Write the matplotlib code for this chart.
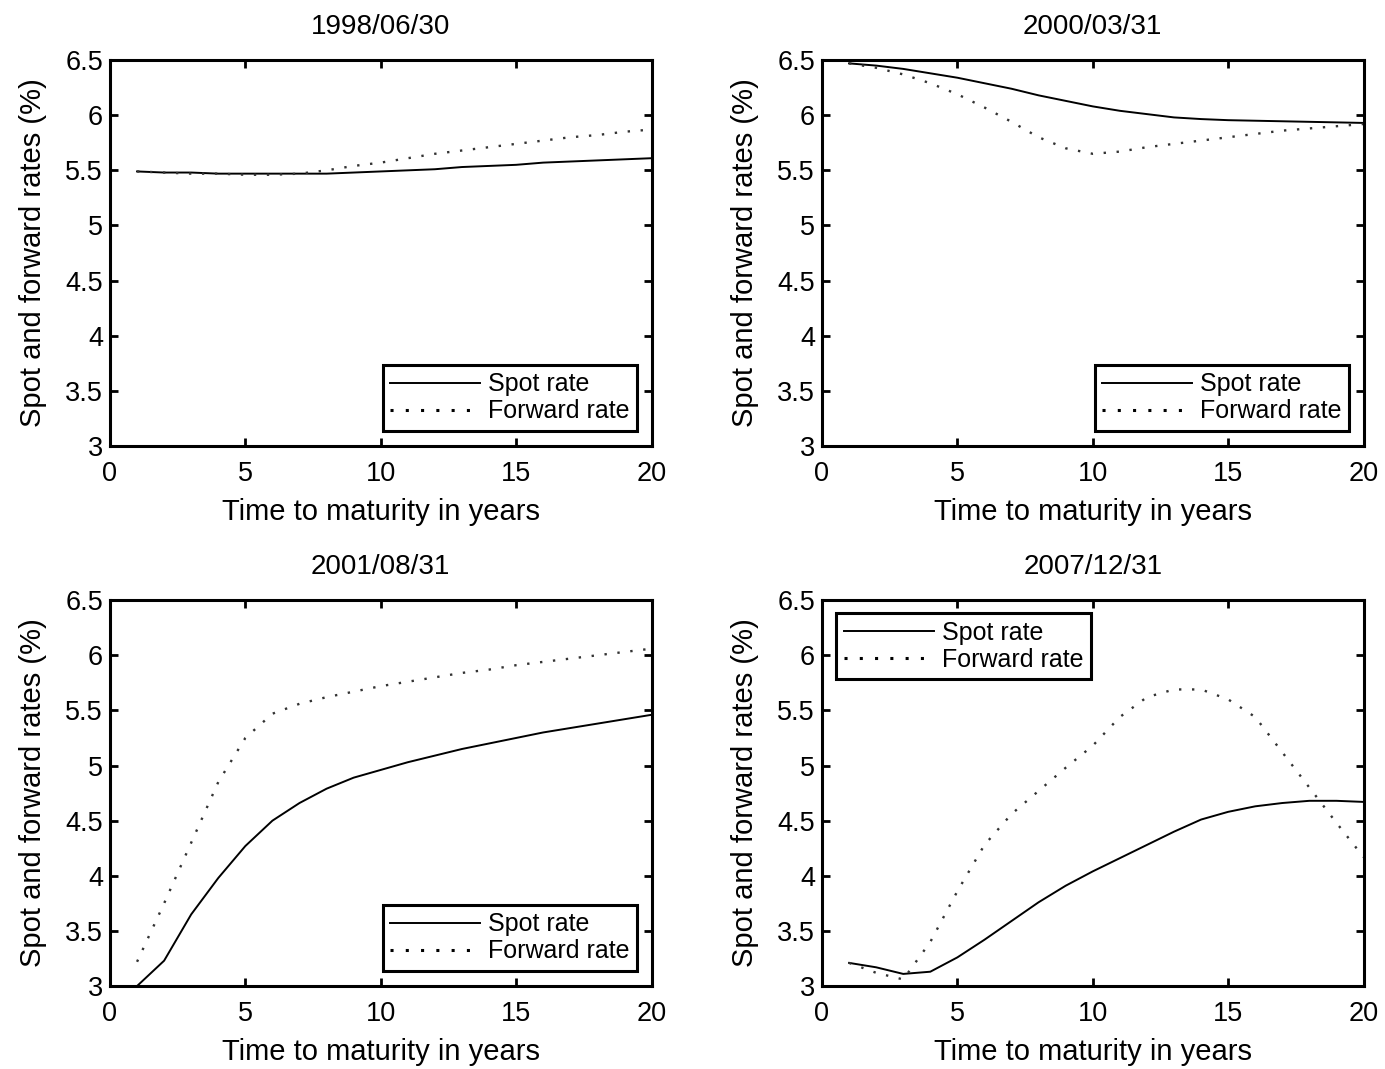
import numpy as np
import matplotlib.pyplot as plt

plt.rcParams["font.family"] = ["Liberation Sans", "DejaVu Sans"]

years = np.arange(1, 21)
titles = ["1998/06/30", "2000/03/31", "2001/08/31", "2007/12/31"]

spot_1998 = [5.49, 5.48, 5.48, 5.47, 5.47, 5.47, 5.47, 5.47, 5.48, 5.49,
             5.50, 5.51, 5.53, 5.54, 5.55, 5.57, 5.58, 5.59, 5.60, 5.61]
fwd_1998 = [5.49, 5.48, 5.47, 5.47, 5.46, 5.46, 5.47, 5.50, 5.54, 5.57,
            5.61, 5.65, 5.68, 5.71, 5.74, 5.77, 5.80, 5.82, 5.85, 5.87]

spot_2000 = [6.47, 6.45, 6.42, 6.38, 6.34, 6.29, 6.24, 6.18, 6.13, 6.08,
             6.04, 6.01, 5.98, 5.965, 5.955, 5.95, 5.945, 5.94, 5.935, 5.93]
fwd_2000 = [6.47, 6.43, 6.37, 6.29, 6.19, 6.07, 5.94, 5.80, 5.70, 5.65,
            5.67, 5.71, 5.74, 5.77, 5.80, 5.83, 5.86, 5.88, 5.90, 5.92]

spot_2001 = [3.00, 3.23, 3.65, 3.98, 4.27, 4.50, 4.66, 4.79, 4.89, 4.96,
             5.03, 5.09, 5.15, 5.20, 5.25, 5.30, 5.34, 5.38, 5.42, 5.46]
fwd_2001 = [3.22, 3.75, 4.30, 4.85, 5.25, 5.47, 5.56, 5.62, 5.67, 5.72,
            5.76, 5.80, 5.84, 5.87, 5.91, 5.94, 5.97, 6.00, 6.03, 6.06]

spot_2007 = [3.21, 3.17, 3.11, 3.13, 3.26, 3.42, 3.59, 3.76, 3.91, 4.04,
             4.16, 4.28, 4.40, 4.51, 4.58, 4.63, 4.66, 4.68, 4.68, 4.67]
fwd_2007 = [3.21, 3.12, 3.06, 3.40, 3.86, 4.28, 4.56, 4.77, 4.98, 5.18,
            5.44, 5.62, 5.69, 5.69, 5.60, 5.44, 5.12, 4.80, 4.48, 4.17]

spots = [spot_1998, spot_2000, spot_2001, spot_2007]
fwds = [fwd_1998, fwd_2000, fwd_2001, fwd_2007]

fig = plt.figure(figsize=(13.85, 10.69), dpi=100)
positions = [
    [0.0794, 0.5828, 0.391, 0.361],
    [0.5935, 0.5828, 0.391, 0.361],
    [0.0794, 0.0776, 0.391, 0.361],
    [0.5935, 0.0776, 0.391, 0.361],
]

for i in range(4):
    ax = fig.add_axes(positions[i])
    ax.plot(years, spots[i], color="black", lw=1.4, label="Spot rate")
    ax.plot(years, fwds[i], color="0.2", lw=1.7, linestyle=(0, (1, 4.5)),
            label="Forward rate")
    ax.set_xlim(0, 20)
    ax.set_ylim(3, 6.5)
    ax.set_xticks([0, 5, 10, 15, 20])
    ax.set_yticks([3, 3.5, 4, 4.5, 5, 5.5, 6, 6.5])
    ax.set_yticklabels(["3", "3.5", "4", "4.5", "5", "5.5", "6", "6.5"])
    ax.tick_params(direction="in", top=True, right=True, length=6, width=2,
                   labelsize=19.5)
    ax.tick_params(axis="x", pad=11)
    ax.tick_params(axis="y", pad=5)
    for s in ax.spines.values():
        s.set_linewidth(2.2)
    ax.set_title(titles[i], fontsize=20, pad=19)
    ax.set_xlabel("Time to maturity in years", fontsize=21, labelpad=8)
    ax.set_ylabel("Spot and forward rates (%)", fontsize=21, labelpad=13)
    if i == 3:
        loc, anchor = "upper left", (0.026, 0.966)
    else:
        loc, anchor = "lower right", (0.974, 0.039)
    leg = ax.legend(loc=loc, bbox_to_anchor=anchor, borderaxespad=0,
                    fontsize=18, handlelength=3.6, handletextpad=0.32,
                    fancybox=False, edgecolor="black", framealpha=1,
                    labelspacing=0.12, borderpad=0.3)
    leg.get_frame().set_linewidth(2.2)
    leg.legend_handles[1].set_color("black")
    leg.legend_handles[1].set_linewidth(2.2)
    leg.legend_handles[1].set_linestyle((0, (1, 4)))

fig.savefig("out.png", dpi=100)
